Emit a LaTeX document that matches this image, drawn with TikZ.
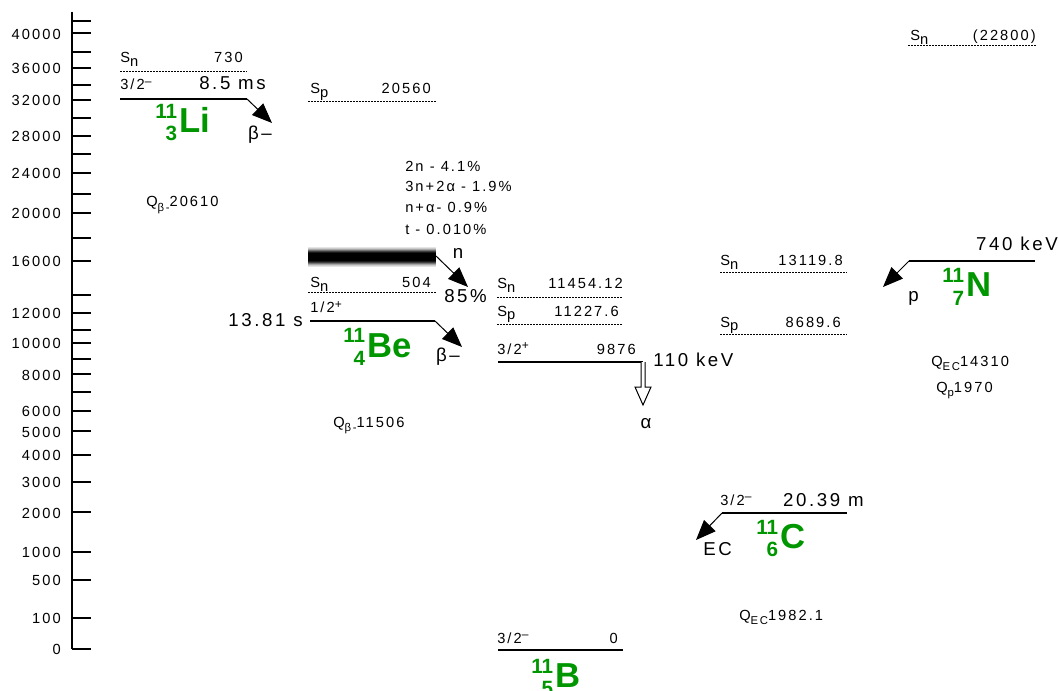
\documentclass[tikz,border=0pt]{standalone}
\usepackage{fontspec}
\setmainfont{Liberation Sans}[LetterSpace=14]
\newfontfamily\nucfont{Liberation Sans}
\usetikzlibrary{arrows.meta,calc}

\definecolor{nucgreen}{RGB}{0,150,0}
\newcommand{\smallfont}{\fontsize{11pt}{13pt}\selectfont}
\newcommand{\bigfont}{\fontsize{14pt}{16pt}\selectfont}
\newcommand{\lsub}[1]{\raisebox{-2.5pt}{#1}}
\newcommand{\qsub}[1]{\raisebox{-3.5pt}{\fontsize{8.5pt}{9pt}\selectfont #1}}
\newcommand{\jpi}[2]{#1\raisebox{3.5pt}{\fontsize{9pt}{9pt}\selectfont #2}}
\newcommand{\nucl}[3]{{\nucfont\bfseries\fontsize{15.5pt}{16pt}\selectfont
  \raisebox{10.5pt}{#1}\llap{\raisebox{-6pt}{#2}}}\kern1.5pt%
  {\nucfont\bfseries\fontsize{26pt}{28pt}\selectfont #3}}

\begin{document}
\begin{tikzpicture}[
  x=0.75pt, y=-0.75pt,
  axis/.style={line width=1.1pt},
  lvl/.style={line width=1.5pt},
  sep/.style={line width=0.75pt, dash pattern=on 1.5pt off 0.75pt},
  decay/.style={line width=0.75pt, -{Triangle[length=15pt,width=12pt]}},
  small/.style={inner sep=0pt, font=\smallfont},
  big/.style={inner sep=0pt, font=\bigfont},
  nuc/.style={inner sep=0pt, text=nucgreen, anchor=base west}
]
  \useasboundingbox (0,0) rectangle (1059,691);
  % ----- energy axis -----
  \draw[axis] (72,12) -- (72,649);
  \foreach \y in {21,33,52,68,85,100,118,136,154,173,194,213,238,261,295,313,
                  330,343,359,374,392,411,431,455,482,512,552,580,618,649}
    \draw[axis] (72,\y) -- ++(19,0);
  \foreach \v/\y in {40000/34,36000/68,32000/100,28000/136,24000/173,20000/213,
                     16000/261,12000/313,10000/343,8000/375,6000/411,5000/432,
                     4000/455,3000/482,2000/513,1000/552,500/580,100/618,0/649}
    \node[small, anchor=east] (ax\v) at (61,\y) {\v};

  % ----- 11Li -----
  \coordinate (Li-snl) at (120,72);
  \coordinate (Li-snr) at (247,72);
  \draw[sep] (Li-snl) -- (Li-snr);
  \node[small, anchor=base west] (Li-sn) at (120,63) {S\lsub{n}};
  \node[small, anchor=base east] (Li-snv) at (243,63) {730};
  \coordinate (Li-l) at (120,99);
  \coordinate (Li-r) at (247,99);
  \coordinate (Li-b) at (272,123);
  \draw[lvl] (Li-l) -- (Li-r);
  \draw[decay] (Li-r) -- (Li-b);
  \node[small, anchor=base west] (Li-jp) at (120,90) {\jpi{3/2}{–}};
  \node[big, anchor=base east] (Li-t) at (266,90) {8.5 ms};
  \node[big] (Li-bm) at (260,135) {β–};
  \node[nuc] (Li) at (155,133) {\nucl{11}{3}{Li}};
  \node[small, anchor=base west] (Li-q) at (146,207) {Q\qsub{β-}20610};

  % ----- 11Be -----
  \coordinate (Be-spl) at (308,102);
  \coordinate (Be-spr) at (436,102);
  \draw[sep] (Be-spl) -- (Be-spr);
  \node[small, anchor=base west] (Be-sp) at (310,94) {S\lsub{p}};
  \node[small, anchor=base east] (Be-spv) at (431,94) {20560};
  \node[small, anchor=base west] (Be-br1) at (405,172) {2n - 4.1\%};
  \node[small, anchor=base west] (Be-br2) at (405,192) {3n+2α - 1.9\%};
  \node[small, anchor=base west] (Be-br3) at (405,213) {n+α- 0.9\%};
  \node[small, anchor=base west] (Be-br4) at (405,235) {t - 0.010\%};
  % broad resonance band
  \foreach \y/\c in {247/10,248/20,249/35,250/55,251/75,252/90,253/100,254/100,
                     255/100,256/100,257/100,258/100,259/100,260/100,261/90,
                     262/75,263/55,264/35,265/20,266/10}
    \fill[black!\c] (308,\y) rectangle (436,\y+1.05);
  \coordinate (Be-res) at (436,256);
  \coordinate (Be-nb) at (468,287);
  \draw[decay] (Be-res) -- (Be-nb);
  \node[big] (Be-n) at (458,253) {n};
  \node[big, anchor=base west] (Be-pc) at (444,303) {85\%};
  \coordinate (Be-snl) at (308,293);
  \coordinate (Be-snr) at (436,293);
  \draw[sep] (Be-snl) -- (Be-snr);
  \node[small, anchor=base west] (Be-sn) at (310,288) {S\lsub{n}};
  \node[small, anchor=base east] (Be-snv) at (431,288) {504};
  \coordinate (Be-l) at (310,321);
  \coordinate (Be-r) at (435,321);
  \coordinate (Be-b) at (462,347);
  \draw[lvl] (Be-l) -- (Be-r);
  \draw[decay] (Be-r) -- (Be-b);
  \node[small, anchor=base west] (Be-jp) at (310,313) {\jpi{1/2}{+}};
  \node[big, anchor=base east] (Be-t) at (303,326) {13.81 s};
  \node[big] (Be-bm) at (448,357) {β–};
  \node[nuc] (Be) at (343,357) {\nucl{11}{4}{Be}};
  \node[small, anchor=base west] (Be-q) at (333,427) {Q\qsub{β-}11506};

  % ----- 11B -----
  \coordinate (B-snl) at (497,298);
  \coordinate (B-snr) at (623,298);
  \draw[sep] (B-snl) -- (B-snr);
  \node[small, anchor=base west] (B-sn) at (497,289) {S\lsub{n}};
  \node[small, anchor=base east] (B-snv) at (623,289) {11454.12};
  \coordinate (B-spl) at (497,325);
  \coordinate (B-spr) at (623,325);
  \draw[sep] (B-spl) -- (B-spr);
  \node[small, anchor=base west] (B-sp) at (497,316) {S\lsub{p}};
  \node[small, anchor=base east] (B-spv) at (619,316) {11227.6};
  \coordinate (B1-l) at (498,362);
  \coordinate (B1-r) at (643,362);
  \coordinate (B1-a) at (643,405);
  \draw[lvl] (B1-l) -- (B1-r);
  \draw[line width=0.75pt, fill=white] ($(B1-r)+(-2,0)$) -- ++(0,25) -- ++(-6,0)
    -- (B1-a) -- ++(8,-18) -- ++(-6,0) -- ++(0,-25);
  \node[small, anchor=base west] (B1-jp) at (497,354) {\jpi{3/2}{+}};
  \node[small, anchor=base east] (B1-e) at (636,354) {9876};
  \node[big, anchor=base west] (B1-w) at (653,366) {110 keV};
  \node[big] (B1-al) at (646,424) {α};
  \coordinate (B0-l) at (498,650);
  \coordinate (B0-r) at (623,650);
  \draw[lvl] (B0-l) -- (B0-r);
  \node[small, anchor=base west] (B0-jp) at (497,643) {\jpi{3/2}{–}};
  \node[small, anchor=base east] (B0-e) at (618,643) {0};
  \node[nuc] (B) at (531,687) {\nucl{11}{5}{B}};

  % ----- 11C -----
  \coordinate (C-l) at (722,513);
  \coordinate (C-r) at (847,513);
  \coordinate (C-b) at (696,540);
  \draw[lvl] (C-l) -- (C-r);
  \draw[decay] (C-l) -- (C-b);
  \node[small, anchor=base west] (C-jp) at (720,505) {\jpi{3/2}{–}};
  \node[big, anchor=base east] (C-t) at (864,506) {20.39 m};
  \node[big, anchor=base west] (C-ec) at (703,555) {EC};
  \node[nuc] (C) at (756,548) {\nucl{11}{6}{C}};
  \node[small, anchor=base west] (C-q) at (739,620) {Q\qsub{EC}1982.1};

  % ----- 11N -----
  \coordinate (N-sntl) at (908,46);
  \coordinate (N-sntr) at (1036,46);
  \draw[sep] (N-sntl) -- (N-sntr);
  \node[small, anchor=base west] (N-snt) at (910,41) {S\lsub{n}};
  \node[small, anchor=base east] (N-sntv) at (1036,41) {(22800)};
  \coordinate (N-snl) at (720,273);
  \coordinate (N-snr) at (847,273);
  \draw[sep] (N-snl) -- (N-snr);
  \node[small, anchor=base west] (N-sn) at (720,266) {S\lsub{n}};
  \node[small, anchor=base east] (N-snv) at (843,266) {13119.8};
  \coordinate (N-spl) at (720,334);
  \coordinate (N-spr) at (847,334);
  \draw[sep] (N-spl) -- (N-spr);
  \node[small, anchor=base west] (N-sp) at (720,327) {S\lsub{p}};
  \node[small, anchor=base east] (N-spv) at (841,327) {8689.6};
  \coordinate (N-l) at (909,261);
  \coordinate (N-r) at (1035,261);
  \coordinate (N-b) at (883,287);
  \draw[lvl] (N-l) -- (N-r);
  \draw[decay] (N-l) -- (N-b);
  \node[big, anchor=base east] (N-w) at (1058,251) {740 keV};
  \node[big, anchor=base west] (N-p) at (908,301) {p};
  \node[nuc] (N) at (942,297) {\nucl{11}{7}{N}};
  \node[small, anchor=base west] (N-qec) at (931,366) {Q\qsub{EC}14310};
  \node[small, anchor=base west] (N-qp) at (936,392) {Q\qsub{p}1970};
\end{tikzpicture}
\end{document}
